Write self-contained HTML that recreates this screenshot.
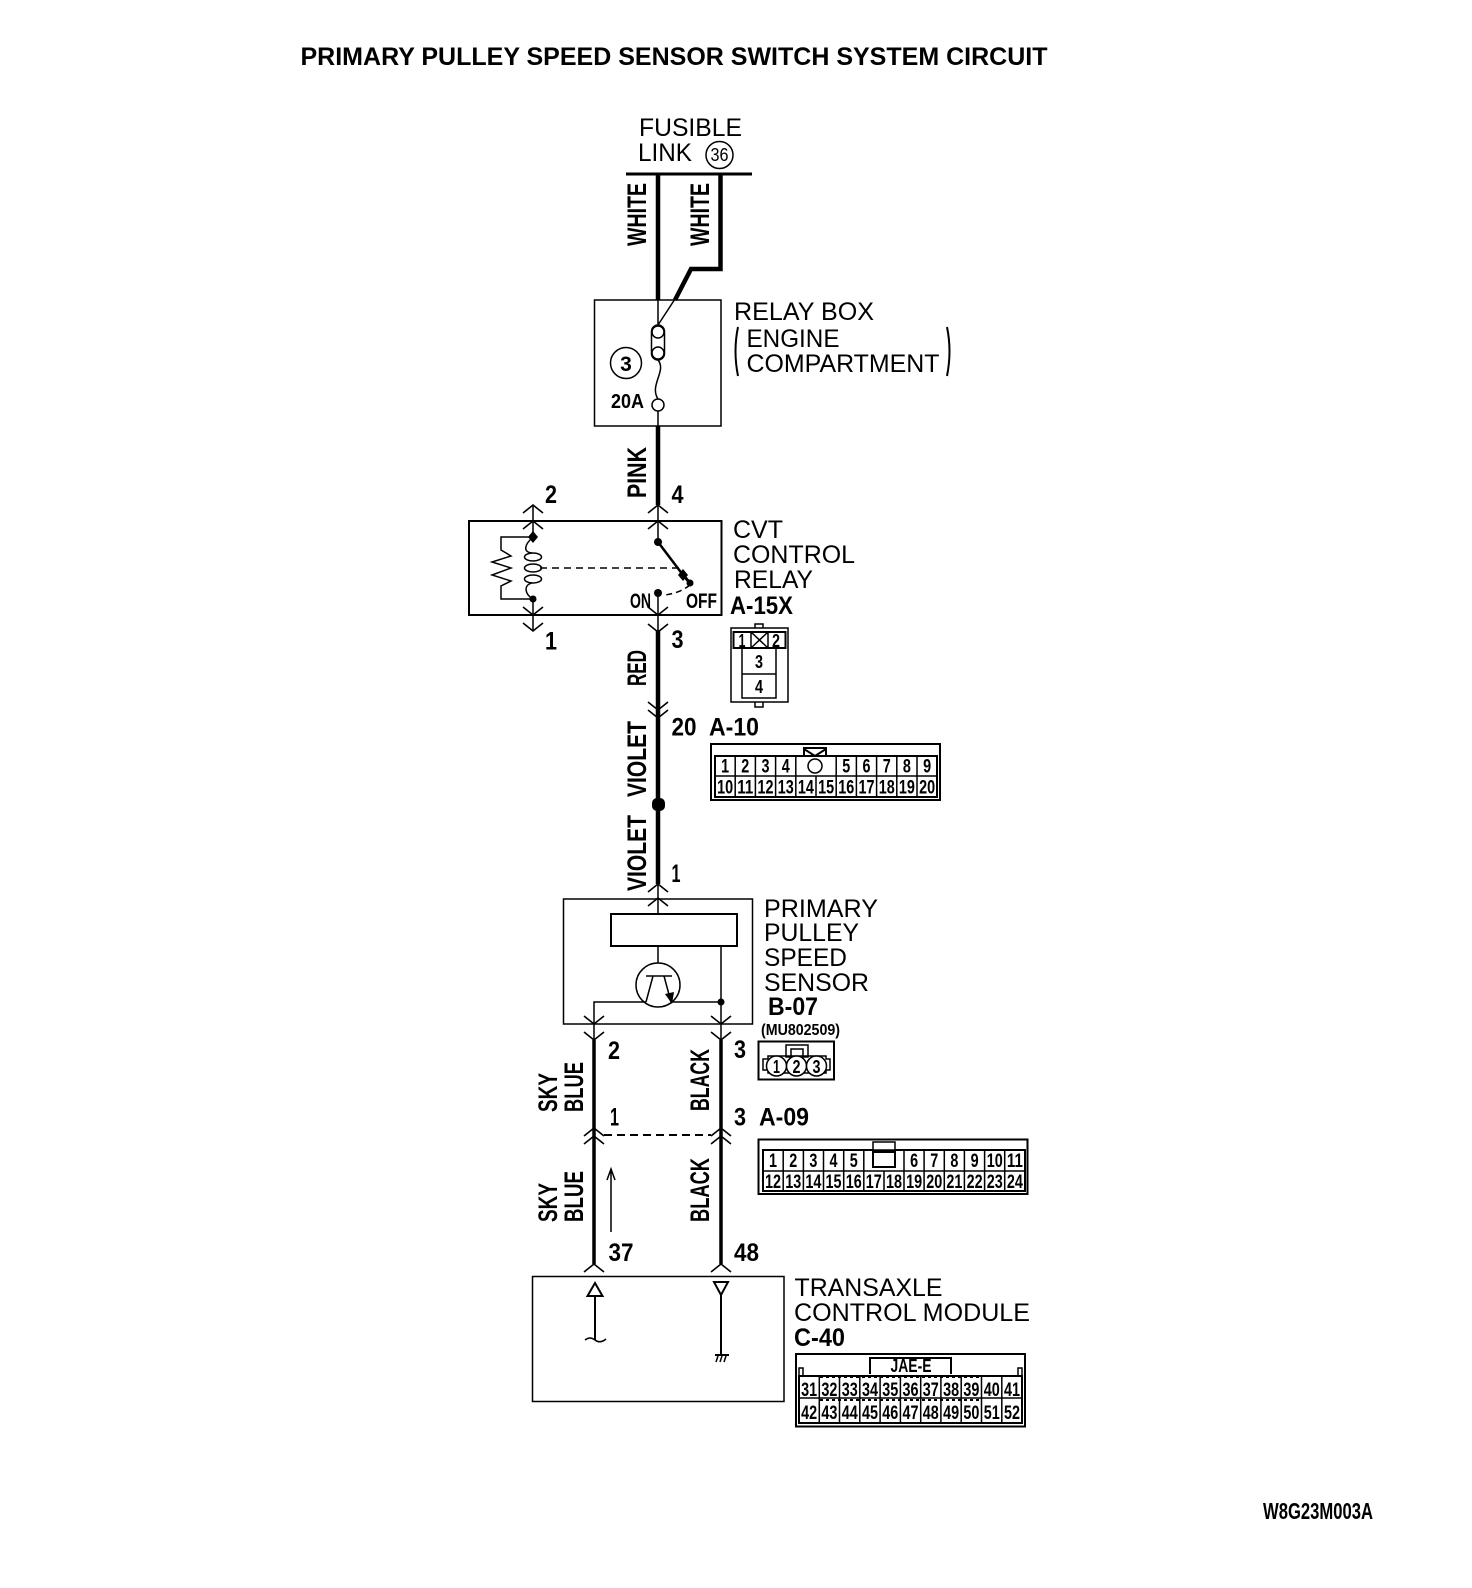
<!DOCTYPE html>
<html><head><meta charset="utf-8"><style>
html,body{margin:0;padding:0;background:#fff}
svg{display:block}
text{font-family:"Liberation Sans",sans-serif;fill:#000}
.r{font-size:25px}
.b{font-size:25px;font-weight:bold}
.w{font-size:27px;font-weight:bold}
.c{font-size:19px;font-weight:bold;text-anchor:middle}
.s{font-size:16px;font-weight:bold}
.l{fill:none;stroke:#000;stroke-width:1.5}
.h{fill:none;stroke:#000;stroke-width:4.5}
.m{fill:none;stroke:#000;stroke-width:3.5}
.k{fill:none;stroke:#000;stroke-width:2}
.f{fill:#fff;stroke:#000;stroke-width:1.5}
</style></head><body>
<svg xmlns="http://www.w3.org/2000/svg" width="1472" height="1588" viewBox="0 0 1472 1588">
<defs>
<path id="u" d="M-10 8L0 0L10 8" fill="none" stroke="#000" stroke-width="1.6"/>
<path id="d" d="M-10 -8L0 0L10 -8" fill="none" stroke="#000" stroke-width="1.6"/>
</defs>
<text class="b" x="300.5" y="65" textLength="747" lengthAdjust="spacingAndGlyphs">PRIMARY PULLEY SPEED SENSOR SWITCH SYSTEM CIRCUIT</text>
<text class="s" x="1263" y="1519" textLength="110" lengthAdjust="spacingAndGlyphs" style="font-size:23px">W8G23M003A</text>

<!-- fusible link -->
<text class="r" x="639" y="136" textLength="103" lengthAdjust="spacingAndGlyphs">FUSIBLE</text>
<text class="r" x="638" y="161" textLength="54" lengthAdjust="spacingAndGlyphs">LINK</text>
<circle cx="719.5" cy="155" r="13.5" class="l"/>
<text x="719.5" y="161" text-anchor="middle" textLength="18" lengthAdjust="spacingAndGlyphs" style="font-size:18px">36</text>
<path d="M626 174H752" stroke="#000" stroke-width="3" fill="none"/>
<path class="h" d="M658 174V300"/>
<path class="h" d="M720.5 174V269H691L675 300"/>
<path class="l" d="M675 299L658 325M658 300V325"/>
<text class="w" transform="translate(646 246) rotate(-90)" textLength="63" lengthAdjust="spacingAndGlyphs">WHITE</text>
<text class="w" transform="translate(709 246) rotate(-90)" textLength="63" lengthAdjust="spacingAndGlyphs">WHITE</text>

<!-- relay box -->
<rect x="594.5" y="300" width="126.5" height="126" class="l"/>
<rect x="651.5" y="325" width="13" height="35" rx="6.5" class="f"/>
<circle cx="658" cy="332" r="6" class="f"/>
<circle cx="658" cy="353" r="6" class="f"/>
<path class="l" d="M658 360C667 371 649 385 658 399"/>
<circle cx="658" cy="405" r="6" class="f"/>
<path class="l" d="M658 411V426"/>
<circle cx="626" cy="363" r="15.5" class="l"/>
<text x="626" y="371" text-anchor="middle" style="font-size:21px;font-weight:bold">3</text>
<text class="s" x="611" y="408" textLength="33" lengthAdjust="spacingAndGlyphs" style="font-size:20px">20A</text>
<text class="r" x="734" y="320" textLength="140" lengthAdjust="spacingAndGlyphs">RELAY BOX</text>
<text class="r" x="746.5" y="347" textLength="93" lengthAdjust="spacingAndGlyphs">ENGINE</text>
<text class="r" x="746.5" y="372" textLength="193" lengthAdjust="spacingAndGlyphs">COMPARTMENT</text>
<path class="k" d="M738 327Q733 351 738 376M947 327Q952 351 947 376"/>
<path class="h" d="M658 426V505"/>
<text class="w" transform="translate(646 498) rotate(-90)" textLength="51" lengthAdjust="spacingAndGlyphs">PINK</text>

<!-- CVT relay -->
<use href="#u" x="533" y="505"/><use href="#u" x="533" y="521"/>
<use href="#u" x="658" y="505"/><use href="#u" x="658" y="521"/>
<rect x="469" y="521" width="252.5" height="94" class="k"/>
<path class="l" d="M533 505V537M658 505V542"/>
<path d="M533 531L538 537L533 543L528 537Z"/>
<path class="l" d="M533 537H501V550L511 556L492 562L511 568L492 575L511 581L501 586V599H533"/>
<path class="l" d="M533 537C524 545 523 552 532 553M532 583C523 585 525 595 533 599"/>
<ellipse cx="533" cy="557" rx="8.5" ry="4" class="l"/>
<ellipse cx="533" cy="568" rx="8.5" ry="4" class="l"/>
<ellipse cx="533" cy="579" rx="8.5" ry="4" class="l"/>
<circle cx="533" cy="599" r="3.5"/>
<path class="l" d="M533 599V631"/>
<use href="#d" x="533" y="615"/><use href="#d" x="533" y="631"/>
<circle cx="658" cy="542" r="4"/>
<path d="M658 542L683 575" stroke="#000" stroke-width="2.5" fill="none"/>
<path d="M683 569L688 575L683 581L678 575Z"/>
<path d="M683 575L690 583" stroke="#000" stroke-width="3"/>
<circle cx="690" cy="583" r="3.5"/>
<path class="l" stroke-dasharray="7 5" d="M540 568H680"/>
<path class="l" stroke-dasharray="6 4" d="M690 585Q680 593 665 595"/>
<circle cx="658" cy="593" r="4"/>
<path class="l" d="M658 593V631"/>
<use href="#d" x="658" y="615"/><use href="#d" x="658" y="632"/>
<text class="b" x="545" y="503" textLength="12" lengthAdjust="spacingAndGlyphs">2</text>
<text class="b" x="671.5" y="503" textLength="12" lengthAdjust="spacingAndGlyphs">4</text>
<text class="b" x="545" y="649.5" textLength="12" lengthAdjust="spacingAndGlyphs">1</text>
<text class="b" x="671.5" y="648" textLength="12" lengthAdjust="spacingAndGlyphs">3</text>
<text class="r" x="733" y="538" textLength="50" lengthAdjust="spacingAndGlyphs">CVT</text>
<text class="r" x="733" y="563" textLength="122" lengthAdjust="spacingAndGlyphs">CONTROL</text>
<text class="r" x="734" y="588" textLength="79" lengthAdjust="spacingAndGlyphs">RELAY</text>
<text class="s" x="630" y="608" textLength="21" lengthAdjust="spacingAndGlyphs" style="font-size:21px">ON</text>
<text class="s" x="686" y="608" textLength="31" lengthAdjust="spacingAndGlyphs" style="font-size:21px">OFF</text>
<text class="b" x="730" y="614" textLength="63" lengthAdjust="spacingAndGlyphs">A-15X</text>

<!-- A-15X connector -->
<rect x="755" y="624" width="8" height="83" class="l"/>
<rect x="731" y="628" width="57" height="74" class="f"/>
<rect x="733.5" y="632" width="52" height="16" class="k"/>
<rect x="742" y="648" width="34" height="50" class="l"/>
<path class="l" d="M742 674H776M751 632V648M768 632V648M751 632L768 648M768 632L751 648"/>
<text class="c" x="742" y="647" textLength="7" lengthAdjust="spacingAndGlyphs" style="font-size:18px">1</text>
<text class="c" x="776" y="647" textLength="8" lengthAdjust="spacingAndGlyphs" style="font-size:18px">2</text>
<text class="c" x="759" y="668" textLength="8" lengthAdjust="spacingAndGlyphs" style="font-size:18px">3</text>
<text class="c" x="759" y="693" textLength="8" lengthAdjust="spacingAndGlyphs" style="font-size:18px">4</text>

<!-- wire red / violet -->
<path class="h" d="M658 630V884"/>
<use href="#d" x="658" y="710"/><use href="#d" x="658" y="718"/>
<text class="w" transform="translate(646 686) rotate(-90)" textLength="36" lengthAdjust="spacingAndGlyphs">RED</text>
<text class="w" transform="translate(646 797) rotate(-90)" textLength="76" lengthAdjust="spacingAndGlyphs">VIOLET</text>
<text class="w" transform="translate(646 891) rotate(-90)" textLength="76" lengthAdjust="spacingAndGlyphs">VIOLET</text>
<rect x="652" y="798" width="13" height="13" rx="5"/>
<text class="b" x="671.5" y="735.5" textLength="25" lengthAdjust="spacingAndGlyphs">20</text>
<text class="b" x="709" y="735.5" textLength="50" lengthAdjust="spacingAndGlyphs">A-10</text>
<text class="b" x="671.5" y="882" textLength="9" lengthAdjust="spacingAndGlyphs">1</text>

<!-- A-10 connector -->
<rect x="711" y="744" width="229" height="56" class="k"/>
<path class="k" d="M804 755V748H826V755M804 749L815 756L826 749"/>
<rect x="715" y="756" width="222" height="41" class="k"/>
<path class="l" d="M715 776H937M735.2 756V797M755.4 756V797M775.6 756V797M795.8 756V797M836.2 756V797M856.4 756V797M876.6 756V797M896.8 756V797M917 756V797M816 776V797"/>
<circle cx="815" cy="766" r="7" class="l"/>
<text class="c" x="725.1" y="772.5" textLength="8" lengthAdjust="spacingAndGlyphs">1</text>
<text class="c" x="745.3" y="772.5" textLength="8" lengthAdjust="spacingAndGlyphs">2</text>
<text class="c" x="765.5" y="772.5" textLength="8" lengthAdjust="spacingAndGlyphs">3</text>
<text class="c" x="785.7" y="772.5" textLength="8" lengthAdjust="spacingAndGlyphs">4</text>
<text class="c" x="846.3" y="772.5" textLength="8" lengthAdjust="spacingAndGlyphs">5</text>
<text class="c" x="866.5" y="772.5" textLength="8" lengthAdjust="spacingAndGlyphs">6</text>
<text class="c" x="886.7" y="772.5" textLength="8" lengthAdjust="spacingAndGlyphs">7</text>
<text class="c" x="906.9" y="772.5" textLength="8" lengthAdjust="spacingAndGlyphs">8</text>
<text class="c" x="927.1" y="772.5" textLength="8" lengthAdjust="spacingAndGlyphs">9</text>
<text class="c" x="725.1" y="793.5" textLength="16" lengthAdjust="spacingAndGlyphs">10</text>
<text class="c" x="745.3" y="793.5" textLength="16" lengthAdjust="spacingAndGlyphs">11</text>
<text class="c" x="765.5" y="793.5" textLength="16" lengthAdjust="spacingAndGlyphs">12</text>
<text class="c" x="785.7" y="793.5" textLength="16" lengthAdjust="spacingAndGlyphs">13</text>
<text class="c" x="805.9" y="793.5" textLength="16" lengthAdjust="spacingAndGlyphs">14</text>
<text class="c" x="826.1" y="793.5" textLength="16" lengthAdjust="spacingAndGlyphs">15</text>
<text class="c" x="846.3" y="793.5" textLength="16" lengthAdjust="spacingAndGlyphs">16</text>
<text class="c" x="866.5" y="793.5" textLength="16" lengthAdjust="spacingAndGlyphs">17</text>
<text class="c" x="886.7" y="793.5" textLength="16" lengthAdjust="spacingAndGlyphs">18</text>
<text class="c" x="906.9" y="793.5" textLength="16" lengthAdjust="spacingAndGlyphs">19</text>
<text class="c" x="927.1" y="793.5" textLength="16" lengthAdjust="spacingAndGlyphs">20</text>

<!-- sensor -->
<use href="#u" x="658" y="884"/><use href="#u" x="658" y="898"/>
<rect x="563.5" y="899" width="189" height="125" class="l"/>
<path class="l" d="M658 884V914"/>
<rect x="611" y="914" width="126" height="32" class="k"/>
<path class="l" d="M658 946V963"/>
<circle cx="658" cy="985" r="22" class="l"/>
<path class="l" d="M646 976H672M653 976L646 1002M664 976L671 1002"/>
<path d="M672 1004L665 994L674 992Z"/>
<path class="l" d="M646 1002H594V1040M671 1002H721"/>
<path class="l" d="M721 946V1040"/>
<circle cx="721" cy="1002" r="3.5"/>
<use href="#d" x="594" y="1024"/><use href="#d" x="594" y="1040"/>
<use href="#d" x="721" y="1024"/><use href="#d" x="721" y="1040"/>
<text class="b" x="608" y="1059" textLength="12" lengthAdjust="spacingAndGlyphs">2</text>
<text class="b" x="734" y="1058" textLength="12" lengthAdjust="spacingAndGlyphs">3</text>
<text class="r" x="764" y="917" textLength="114" lengthAdjust="spacingAndGlyphs">PRIMARY</text>
<text class="r" x="764" y="941" textLength="95" lengthAdjust="spacingAndGlyphs">PULLEY</text>
<text class="r" x="764" y="966" textLength="83" lengthAdjust="spacingAndGlyphs">SPEED</text>
<text class="r" x="764" y="991" textLength="105" lengthAdjust="spacingAndGlyphs">SENSOR</text>
<text class="b" x="768" y="1015" textLength="50" lengthAdjust="spacingAndGlyphs">B-07</text>
<text class="s" x="761" y="1035" textLength="79" lengthAdjust="spacingAndGlyphs">(MU802509)</text>

<!-- B-07 connector -->
<rect x="758.5" y="1041.5" width="75.5" height="38" class="k"/>
<rect x="786" y="1045" width="22" height="12" class="l"/>
<rect x="791" y="1049" width="12" height="8" class="l"/>
<path class="l" d="M768 1056H826V1059H830V1070H826V1073H768V1070H763V1059H768Z"/>
<circle cx="776.5" cy="1066" r="10" class="f"/>
<circle cx="796.5" cy="1066" r="10" class="f"/>
<circle cx="816.5" cy="1066" r="10" class="f"/>
<text class="c" x="776.5" y="1073" textLength="7" lengthAdjust="spacingAndGlyphs" style="font-size:18px">1</text>
<text class="c" x="796.5" y="1073" textLength="8" lengthAdjust="spacingAndGlyphs" style="font-size:18px">2</text>
<text class="c" x="816.5" y="1073" textLength="8" lengthAdjust="spacingAndGlyphs" style="font-size:18px">3</text>

<!-- lower wires -->
<path class="m" d="M594 1040V1264M721 1040V1264"/>
<use href="#u" x="594" y="1128"/><use href="#u" x="594" y="1136"/>
<use href="#u" x="721" y="1128"/><use href="#u" x="721" y="1136"/>
<use href="#u" x="594" y="1264"/><use href="#u" x="721" y="1264"/>
<path class="l" style="stroke-width:2" stroke-dasharray="8 5" d="M604 1135H711"/>
<text class="w" transform="translate(557 1112) rotate(-90)" textLength="39" lengthAdjust="spacingAndGlyphs">SKY</text>
<text class="w" transform="translate(583 1112) rotate(-90)" textLength="50" lengthAdjust="spacingAndGlyphs">BLUE</text>
<text class="w" transform="translate(709 1111) rotate(-90)" textLength="62" lengthAdjust="spacingAndGlyphs">BLACK</text>
<text class="w" transform="translate(557 1222) rotate(-90)" textLength="39" lengthAdjust="spacingAndGlyphs">SKY</text>
<text class="w" transform="translate(583 1222) rotate(-90)" textLength="51" lengthAdjust="spacingAndGlyphs">BLUE</text>
<text class="w" transform="translate(709 1222) rotate(-90)" textLength="64" lengthAdjust="spacingAndGlyphs">BLACK</text>
<text class="b" x="610" y="1125.5" textLength="9" lengthAdjust="spacingAndGlyphs">1</text>
<text class="b" x="734" y="1125.5" textLength="12" lengthAdjust="spacingAndGlyphs">3</text>
<text class="b" x="759" y="1125.5" textLength="50" lengthAdjust="spacingAndGlyphs">A-09</text>
<path class="l" d="M611 1232V1171M607 1180L611 1169L615 1180"/>
<text class="b" x="608.5" y="1261" textLength="25" lengthAdjust="spacingAndGlyphs">37</text>
<text class="b" x="734" y="1261" textLength="25" lengthAdjust="spacingAndGlyphs">48</text>

<!-- A-09 connector -->
<rect x="758.5" y="1139.5" width="269" height="54.5" class="k"/>
<rect x="763" y="1150" width="262" height="41" class="k"/>
<path class="l" d="M763 1171H1025M783.2 1150V1191M803.4 1150V1191M823.5 1150V1191M843.7 1150V1191M863.8 1150V1191M904 1150V1191M924.1 1150V1191M944.3 1150V1191M964.4 1150V1191M984.6 1150V1191M1004.7 1150V1191M884 1171V1191"/>
<rect x="873" y="1142" width="22" height="8" class="f"/>
<rect x="873" y="1152" width="22" height="15" class="k"/>
<text class="c" x="773" y="1167" textLength="8" lengthAdjust="spacingAndGlyphs">1</text>
<text class="c" x="793.2" y="1167" textLength="8" lengthAdjust="spacingAndGlyphs">2</text>
<text class="c" x="813.4" y="1167" textLength="8" lengthAdjust="spacingAndGlyphs">3</text>
<text class="c" x="833.5" y="1167" textLength="8" lengthAdjust="spacingAndGlyphs">4</text>
<text class="c" x="853.7" y="1167" textLength="8" lengthAdjust="spacingAndGlyphs">5</text>
<text class="c" x="914.1" y="1167" textLength="8" lengthAdjust="spacingAndGlyphs">6</text>
<text class="c" x="934.3" y="1167" textLength="8" lengthAdjust="spacingAndGlyphs">7</text>
<text class="c" x="954.4" y="1167" textLength="8" lengthAdjust="spacingAndGlyphs">8</text>
<text class="c" x="974.6" y="1167" textLength="8" lengthAdjust="spacingAndGlyphs">9</text>
<text class="c" x="994.7" y="1167" textLength="16" lengthAdjust="spacingAndGlyphs">10</text>
<text class="c" x="1014.9" y="1167" textLength="16" lengthAdjust="spacingAndGlyphs">11</text>
<text class="c" x="773" y="1188" textLength="16" lengthAdjust="spacingAndGlyphs">12</text>
<text class="c" x="793.2" y="1188" textLength="16" lengthAdjust="spacingAndGlyphs">13</text>
<text class="c" x="813.4" y="1188" textLength="16" lengthAdjust="spacingAndGlyphs">14</text>
<text class="c" x="833.5" y="1188" textLength="16" lengthAdjust="spacingAndGlyphs">15</text>
<text class="c" x="853.7" y="1188" textLength="16" lengthAdjust="spacingAndGlyphs">16</text>
<text class="c" x="873.8" y="1188" textLength="16" lengthAdjust="spacingAndGlyphs">17</text>
<text class="c" x="894" y="1188" textLength="16" lengthAdjust="spacingAndGlyphs">18</text>
<text class="c" x="914.1" y="1188" textLength="16" lengthAdjust="spacingAndGlyphs">19</text>
<text class="c" x="934.3" y="1188" textLength="16" lengthAdjust="spacingAndGlyphs">20</text>
<text class="c" x="954.4" y="1188" textLength="16" lengthAdjust="spacingAndGlyphs">21</text>
<text class="c" x="974.6" y="1188" textLength="16" lengthAdjust="spacingAndGlyphs">22</text>
<text class="c" x="994.7" y="1188" textLength="16" lengthAdjust="spacingAndGlyphs">23</text>
<text class="c" x="1014.9" y="1188" textLength="16" lengthAdjust="spacingAndGlyphs">24</text>

<!-- TCM -->
<rect x="532.5" y="1276.5" width="251.5" height="125" class="l"/>
<path class="k" d="M595 1283L602.5 1296H587.5ZM595 1296V1340"/>
<path class="l" d="M585 1340Q590 1336 595 1340Q600 1344 606 1339"/>
<path class="k" d="M714 1282H728L721 1295ZM721 1295V1355"/>
<path class="k" d="M715 1355H729"/>
<path class="l" d="M718 1356L716 1362M722 1356L720 1362M726 1356L724 1362"/>
<text class="r" x="794.5" y="1296" textLength="148" lengthAdjust="spacingAndGlyphs">TRANSAXLE</text>
<text class="r" x="794" y="1321" textLength="236" lengthAdjust="spacingAndGlyphs">CONTROL MODULE</text>
<text class="b" x="794" y="1346" textLength="51" lengthAdjust="spacingAndGlyphs">C-40</text>

<!-- C-40 connector -->
<rect x="796" y="1354" width="229" height="72.5" class="k"/>
<path class="k" d="M870 1374V1358H951V1374"/>
<text class="c" x="911" y="1372" textLength="41" lengthAdjust="spacingAndGlyphs" style="font-size:18px">JAE-E</text>
<path class="l" d="M799 1375V1368H803V1375M1018 1375V1368H1022V1375"/>
<rect x="799" y="1376" width="223" height="47" class="k"/>
<path class="l" d="M799 1398H1022M819.3 1376V1423M839.5 1376V1423M859.8 1376V1423M880.1 1376V1423M900.4 1376V1423M920.7 1376V1423M940.9 1376V1423M961.2 1376V1423M981.5 1376V1423M1001.8 1376V1423"/>
<path class="l" style="stroke-width:2" stroke-dasharray="3 3" d="M820 1377H981M820 1400H981"/>
<text class="c" x="809.1" y="1396" textLength="16" lengthAdjust="spacingAndGlyphs">31</text>
<text class="c" x="829.4" y="1396" textLength="16" lengthAdjust="spacingAndGlyphs">32</text>
<text class="c" x="849.7" y="1396" textLength="16" lengthAdjust="spacingAndGlyphs">33</text>
<text class="c" x="870" y="1396" textLength="16" lengthAdjust="spacingAndGlyphs">34</text>
<text class="c" x="890.3" y="1396" textLength="16" lengthAdjust="spacingAndGlyphs">35</text>
<text class="c" x="910.5" y="1396" textLength="16" lengthAdjust="spacingAndGlyphs">36</text>
<text class="c" x="930.8" y="1396" textLength="16" lengthAdjust="spacingAndGlyphs">37</text>
<text class="c" x="951.1" y="1396" textLength="16" lengthAdjust="spacingAndGlyphs">38</text>
<text class="c" x="971.4" y="1396" textLength="16" lengthAdjust="spacingAndGlyphs">39</text>
<text class="c" x="991.7" y="1396" textLength="16" lengthAdjust="spacingAndGlyphs">40</text>
<text class="c" x="1012" y="1396" textLength="16" lengthAdjust="spacingAndGlyphs">41</text>
<text class="c" x="809.1" y="1419" textLength="16" lengthAdjust="spacingAndGlyphs">42</text>
<text class="c" x="829.4" y="1419" textLength="16" lengthAdjust="spacingAndGlyphs">43</text>
<text class="c" x="849.7" y="1419" textLength="16" lengthAdjust="spacingAndGlyphs">44</text>
<text class="c" x="870" y="1419" textLength="16" lengthAdjust="spacingAndGlyphs">45</text>
<text class="c" x="890.3" y="1419" textLength="16" lengthAdjust="spacingAndGlyphs">46</text>
<text class="c" x="910.5" y="1419" textLength="16" lengthAdjust="spacingAndGlyphs">47</text>
<text class="c" x="930.8" y="1419" textLength="16" lengthAdjust="spacingAndGlyphs">48</text>
<text class="c" x="951.1" y="1419" textLength="16" lengthAdjust="spacingAndGlyphs">49</text>
<text class="c" x="971.4" y="1419" textLength="16" lengthAdjust="spacingAndGlyphs">50</text>
<text class="c" x="991.7" y="1419" textLength="16" lengthAdjust="spacingAndGlyphs">51</text>
<text class="c" x="1012" y="1419" textLength="16" lengthAdjust="spacingAndGlyphs">52</text>
</svg>
</body></html>
